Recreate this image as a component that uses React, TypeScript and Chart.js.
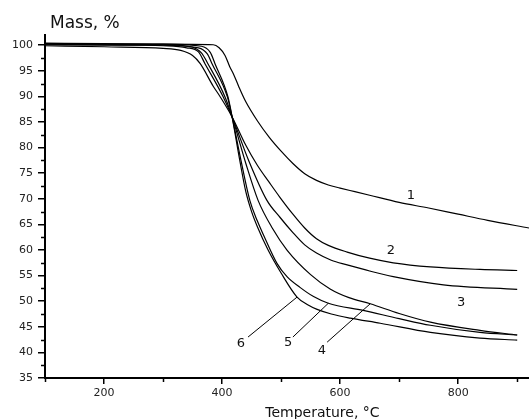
import { useEffect, useRef } from "react";
import { Chart, registerables } from "chart.js";

Chart.register(...registerables);

// ---- data ----
const temp1 = [100, 200, 300, 385, 395, 405, 413, 420, 428, 440, 460, 480, 500, 520, 540, 560, 580, 600, 625, 650, 700, 750, 800, 850, 920];
const mass1 = [100.3, 100.2, 100.2, 100.1, 99.5, 98.0, 95.8, 94.2, 92.0, 89.0, 85.2, 82.0, 79.3, 76.9, 74.9, 73.6, 72.7, 72.1, 71.4, 70.7, 69.3, 68.2, 67.0, 65.8, 64.3];

const temp2 = [100, 200, 300, 330, 350, 363, 385, 397, 417, 440, 460, 480, 498, 520, 540, 560, 580, 612, 650, 690, 753, 837, 900];
const mass2 = [99.9, 99.7, 99.4, 99.0, 98.0, 96.4, 92.0, 89.9, 86.0, 80.5, 76.5, 73.2, 70.3, 67.0, 64.3, 62.2, 60.9, 59.6, 58.4, 57.5, 56.7, 56.2, 56.0];

const temp3 = [100, 200, 300, 340, 360, 371, 402, 417, 445, 476, 498, 520, 540, 560, 585, 612, 650, 690, 775, 900];
const mass3 = [100.2, 100.1, 99.9, 99.5, 98.7, 96.4, 89.9, 86.0, 77.5, 69.7, 66.4, 63.4, 61.0, 59.4, 58.0, 57.1, 55.9, 54.8, 53.2, 52.3];

const temp4 = [100, 200, 300, 350, 365, 376, 405, 417, 440, 461, 485, 510, 550, 583, 615, 651, 700, 753, 837, 900];
const mass4 = [100.4, 100.3, 100.1, 99.6, 98.5, 96.4, 89.9, 86.0, 77.0, 69.7, 64.3, 60.0, 55.2, 52.4, 50.7, 49.5, 47.6, 45.9, 44.3, 43.4];

const temp5 = [100, 200, 300, 360, 375, 383, 409, 417, 432, 447, 460, 470, 493, 510, 532, 555, 580, 639, 700, 753, 837, 900];
const mass5 = [100.1, 100.0, 100.0, 99.5, 98.3, 96.4, 89.9, 86.0, 77.5, 69.7, 65.6, 63.0, 57.4, 54.8, 52.7, 50.9, 49.6, 48.2, 46.6, 45.3, 43.9, 43.4];

const temp6 = [100, 200, 300, 365, 380, 388, 410, 417, 430, 440, 450, 460, 478, 500, 527, 545, 561, 585, 617, 668, 753, 837, 900];
const mass6 = [100.3, 100.2, 100.2, 99.8, 98.6, 96.4, 89.9, 86.0, 77.5, 71.5, 67.5, 64.5, 60.0, 55.5, 50.8, 49.3, 48.4, 47.5, 46.7, 45.7, 43.9, 42.8, 42.4];

const xMajorTicks = [200, 400, 600, 800];
const xMinorTicks = [100, 300, 500, 700, 900];
const yMajorTicks = [35, 40, 45, 50, 55, 60, 65, 70, 75, 80, 85, 90, 95, 100];
const yMinorTicks = [37.5, 42.5, 47.5, 52.5, 57.5, 62.5, 67.5, 72.5, 77.5, 82.5, 87.5, 92.5, 97.5];

// curve labels (in data units)
const labelTexts = ["1", "2", "3", "6", "5", "4"];
const labelTemp = [720, 686, 805, 432, 512, 569];
const labelMass = [70.7, 59.8, 49.8, 41.8, 42.0, 40.4];

// leader lines for labels 6, 5, 4 (from label to curve)
const leaderFromTemp = [444, 520, 578];
const leaderFromMass = [43.0, 43.0, 42.0];
const leaderToTemp = [527, 580, 651];
const leaderToMass = [50.8, 49.6, 49.5];

const yTitle = "Mass, %";
const xTitle = "Temperature, °C";

const FONT = "'DejaVu Sans', Verdana, sans-serif";

export default function App() {
  const ref = useRef<HTMLCanvasElement>(null);

  useEffect(() => {
    const canvas = ref.current;
    if (!canvas) return;
    const pts = (t: number[], m: number[]) => t.map((x, i) => ({ x, y: m[i] }));
    const series = [
      pts(temp1, mass1),
      pts(temp2, mass2),
      pts(temp3, mass3),
      pts(temp4, mass4),
      pts(temp5, mass5),
      pts(temp6, mass6),
    ];

    const decor = {
      id: "decor",
      afterDraw(chart: any) {
        const ctx = chart.ctx;
        const xs = chart.scales.x;
        const ys = chart.scales.y;
        const area = chart.chartArea;
        ctx.save();
        ctx.strokeStyle = "#000";
        ctx.lineWidth = 1.5;
        // minor ticks
        ctx.beginPath();
        xMinorTicks.forEach((v) => {
          const px = Math.round(xs.getPixelForValue(v)) + 0.5;
          ctx.moveTo(px, area.bottom);
          ctx.lineTo(px, area.bottom + 4);
        });
        yMinorTicks.forEach((v) => {
          const py = Math.round(ys.getPixelForValue(v)) + 0.5;
          ctx.moveTo(area.left - 4, py);
          ctx.lineTo(area.left, py);
        });
        ctx.stroke();

        // leader lines
        ctx.lineWidth = 1;
        ctx.beginPath();
        leaderFromTemp.forEach((t, i) => {
          ctx.moveTo(xs.getPixelForValue(t), ys.getPixelForValue(leaderFromMass[i]));
          ctx.lineTo(xs.getPixelForValue(leaderToTemp[i]), ys.getPixelForValue(leaderToMass[i]));
        });
        ctx.stroke();

        // curve labels
        ctx.fillStyle = "#111";
        ctx.font = `13px ${FONT}`;
        ctx.textAlign = "center";
        ctx.textBaseline = "middle";
        labelTexts.forEach((s, i) => {
          ctx.fillText(s, xs.getPixelForValue(labelTemp[i]), ys.getPixelForValue(labelMass[i]));
        });

        // axis titles
        ctx.textBaseline = "alphabetic";
        ctx.textAlign = "left";
        ctx.font = `17px ${FONT}`;
        ctx.fillText(yTitle, area.left + 5, area.top - 7);
        ctx.textAlign = "center";
        ctx.font = `14px ${FONT}`;
        ctx.fillText(xTitle, xs.getPixelForValue(570), area.bottom + 39);
        ctx.restore();
      },
    };

    const tickFont = { family: FONT, size: 11 };

    const chart = new Chart(canvas, {
      type: "line",
      data: {
        datasets: series.map((data) => ({
          data,
          borderColor: "#000",
          borderWidth: 1.2,
          pointRadius: 0,
          fill: false,
          cubicInterpolationMode: "monotone" as const,
        })),
      },
      options: {
        animation: false,
        responsive: false,
        maintainAspectRatio: false,
        layout: { padding: { top: 35, right: 0, left: 0, bottom: 0 } },
        plugins: {
          legend: { display: false },
          tooltip: { enabled: false },
          title: { display: false },
        },
        scales: {
          x: {
            type: "linear",
            min: 100,
            max: 920,
            afterBuildTicks: (s: any) => {
              s.ticks = xMajorTicks.map((v) => ({ value: v }));
            },
            afterFit: (s: any) => {
              s.height = 41;
            },
            grid: { drawOnChartArea: false, drawTicks: true, tickLength: 6, color: "#000", lineWidth: 1.5 },
            border: { color: "#000", width: 2 },
            ticks: { font: tickFont, color: "#222", padding: 3, maxRotation: 0, autoSkip: false },
          },
          y: {
            type: "linear",
            min: 35,
            max: 102,
            afterBuildTicks: (s: any) => {
              s.ticks = yMajorTicks.map((v) => ({ value: v }));
            },
            afterFit: (s: any) => {
              s.width = 45;
            },
            grid: { drawOnChartArea: false, drawTicks: true, tickLength: 7, color: "#000", lineWidth: 1.5 },
            border: { color: "#000", width: 2 },
            ticks: { font: tickFont, color: "#222", padding: 5, autoSkip: false },
          },
        },
      },
      plugins: [decor],
    });
    return () => chart.destroy();
  }, []);

  return (
    <div style={{ position: "absolute", left: 0, top: 0, width: 529, height: 419, background: "#fff" }}>
      <canvas ref={ref} width={529} height={419} style={{ display: "block" }} />
    </div>
  );
}
